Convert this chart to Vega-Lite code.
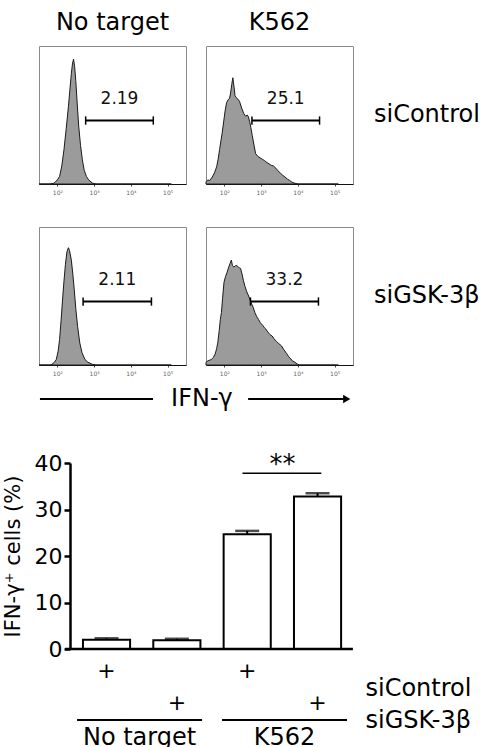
{
  "$schema": "https://vega.github.io/schema/vega-lite/v6.json",
  "padding": {"left": 2, "top": 11, "right": 0, "bottom": 0},
  "spacing": 0,
  "datasets": {
    "flow": [
      {"target": "No target", "sirna": "siControl", "log_ifng": 1.5, "freq": 0},
      {"target": "No target", "sirna": "siControl", "log_ifng": 1.8, "freq": 0},
      {"target": "No target", "sirna": "siControl", "log_ifng": 1.9, "freq": 0.5},
      {"target": "No target", "sirna": "siControl", "log_ifng": 1.95, "freq": 1.5},
      {"target": "No target", "sirna": "siControl", "log_ifng": 2.0, "freq": 3},
      {"target": "No target", "sirna": "siControl", "log_ifng": 2.06, "freq": 5.5},
      {"target": "No target", "sirna": "siControl", "log_ifng": 2.12, "freq": 13},
      {"target": "No target", "sirna": "siControl", "log_ifng": 2.18, "freq": 25},
      {"target": "No target", "sirna": "siControl", "log_ifng": 2.24, "freq": 40},
      {"target": "No target", "sirna": "siControl", "log_ifng": 2.3, "freq": 56},
      {"target": "No target", "sirna": "siControl", "log_ifng": 2.34, "freq": 68},
      {"target": "No target", "sirna": "siControl", "log_ifng": 2.38, "freq": 80},
      {"target": "No target", "sirna": "siControl", "log_ifng": 2.41, "freq": 87},
      {"target": "No target", "sirna": "siControl", "log_ifng": 2.44, "freq": 90.5},
      {"target": "No target", "sirna": "siControl", "log_ifng": 2.47, "freq": 85},
      {"target": "No target", "sirna": "siControl", "log_ifng": 2.5, "freq": 75},
      {"target": "No target", "sirna": "siControl", "log_ifng": 2.54, "freq": 58},
      {"target": "No target", "sirna": "siControl", "log_ifng": 2.58, "freq": 42},
      {"target": "No target", "sirna": "siControl", "log_ifng": 2.63, "freq": 28},
      {"target": "No target", "sirna": "siControl", "log_ifng": 2.68, "freq": 17.5},
      {"target": "No target", "sirna": "siControl", "log_ifng": 2.73, "freq": 10},
      {"target": "No target", "sirna": "siControl", "log_ifng": 2.79, "freq": 5.5},
      {"target": "No target", "sirna": "siControl", "log_ifng": 2.85, "freq": 3},
      {"target": "No target", "sirna": "siControl", "log_ifng": 2.95, "freq": 0.7},
      {"target": "No target", "sirna": "siControl", "log_ifng": 3.05, "freq": 0},
      {"target": "No target", "sirna": "siControl", "log_ifng": 5.1, "freq": 0},

      {"target": "K562", "sirna": "siControl", "log_ifng": 1.5, "freq": 1.5},
      {"target": "K562", "sirna": "siControl", "log_ifng": 1.55, "freq": 3},
      {"target": "K562", "sirna": "siControl", "log_ifng": 1.6, "freq": 2.5},
      {"target": "K562", "sirna": "siControl", "log_ifng": 1.67, "freq": 5},
      {"target": "K562", "sirna": "siControl", "log_ifng": 1.73, "freq": 8},
      {"target": "K562", "sirna": "siControl", "log_ifng": 1.79, "freq": 12.5},
      {"target": "K562", "sirna": "siControl", "log_ifng": 1.83, "freq": 18},
      {"target": "K562", "sirna": "siControl", "log_ifng": 1.87, "freq": 25},
      {"target": "K562", "sirna": "siControl", "log_ifng": 1.91, "freq": 32},
      {"target": "K562", "sirna": "siControl", "log_ifng": 1.94, "freq": 37},
      {"target": "K562", "sirna": "siControl", "log_ifng": 1.98, "freq": 45},
      {"target": "K562", "sirna": "siControl", "log_ifng": 2.02, "freq": 53},
      {"target": "K562", "sirna": "siControl", "log_ifng": 2.06, "freq": 59},
      {"target": "K562", "sirna": "siControl", "log_ifng": 2.1, "freq": 61},
      {"target": "K562", "sirna": "siControl", "log_ifng": 2.14, "freq": 62},
      {"target": "K562", "sirna": "siControl", "log_ifng": 2.17, "freq": 66},
      {"target": "K562", "sirna": "siControl", "log_ifng": 2.2, "freq": 72},
      {"target": "K562", "sirna": "siControl", "log_ifng": 2.23, "freq": 77},
      {"target": "K562", "sirna": "siControl", "log_ifng": 2.26, "freq": 71},
      {"target": "K562", "sirna": "siControl", "log_ifng": 2.29, "freq": 64},
      {"target": "K562", "sirna": "siControl", "log_ifng": 2.31, "freq": 63},
      {"target": "K562", "sirna": "siControl", "log_ifng": 2.35, "freq": 62},
      {"target": "K562", "sirna": "siControl", "log_ifng": 2.41, "freq": 60},
      {"target": "K562", "sirna": "siControl", "log_ifng": 2.47, "freq": 55},
      {"target": "K562", "sirna": "siControl", "log_ifng": 2.53, "freq": 51},
      {"target": "K562", "sirna": "siControl", "log_ifng": 2.58, "freq": 49},
      {"target": "K562", "sirna": "siControl", "log_ifng": 2.62, "freq": 50},
      {"target": "K562", "sirna": "siControl", "log_ifng": 2.65, "freq": 49},
      {"target": "K562", "sirna": "siControl", "log_ifng": 2.69, "freq": 45},
      {"target": "K562", "sirna": "siControl", "log_ifng": 2.72, "freq": 41},
      {"target": "K562", "sirna": "siControl", "log_ifng": 2.76, "freq": 35},
      {"target": "K562", "sirna": "siControl", "log_ifng": 2.8, "freq": 29},
      {"target": "K562", "sirna": "siControl", "log_ifng": 2.85, "freq": 22},
      {"target": "K562", "sirna": "siControl", "log_ifng": 2.91, "freq": 20},
      {"target": "K562", "sirna": "siControl", "log_ifng": 2.97, "freq": 19},
      {"target": "K562", "sirna": "siControl", "log_ifng": 3.03, "freq": 18},
      {"target": "K562", "sirna": "siControl", "log_ifng": 3.09, "freq": 17},
      {"target": "K562", "sirna": "siControl", "log_ifng": 3.16, "freq": 15.5},
      {"target": "K562", "sirna": "siControl", "log_ifng": 3.22, "freq": 14.5},
      {"target": "K562", "sirna": "siControl", "log_ifng": 3.28, "freq": 13.5},
      {"target": "K562", "sirna": "siControl", "log_ifng": 3.34, "freq": 13},
      {"target": "K562", "sirna": "siControl", "log_ifng": 3.4, "freq": 11.5},
      {"target": "K562", "sirna": "siControl", "log_ifng": 3.46, "freq": 9.5},
      {"target": "K562", "sirna": "siControl", "log_ifng": 3.52, "freq": 8},
      {"target": "K562", "sirna": "siControl", "log_ifng": 3.58, "freq": 6.5},
      {"target": "K562", "sirna": "siControl", "log_ifng": 3.65, "freq": 5},
      {"target": "K562", "sirna": "siControl", "log_ifng": 3.72, "freq": 3.5},
      {"target": "K562", "sirna": "siControl", "log_ifng": 3.78, "freq": 2.5},
      {"target": "K562", "sirna": "siControl", "log_ifng": 3.83, "freq": 1.5},
      {"target": "K562", "sirna": "siControl", "log_ifng": 3.9, "freq": 0.7},
      {"target": "K562", "sirna": "siControl", "log_ifng": 4.0, "freq": 0},
      {"target": "K562", "sirna": "siControl", "log_ifng": 5.1, "freq": 0},

      {"target": "No target", "sirna": "siGSK-3β", "log_ifng": 1.5, "freq": 0},
      {"target": "No target", "sirna": "siGSK-3β", "log_ifng": 1.8, "freq": 0},
      {"target": "No target", "sirna": "siGSK-3β", "log_ifng": 1.85, "freq": 0.5},
      {"target": "No target", "sirna": "siGSK-3β", "log_ifng": 1.92, "freq": 2},
      {"target": "No target", "sirna": "siGSK-3β", "log_ifng": 1.97, "freq": 4},
      {"target": "No target", "sirna": "siGSK-3β", "log_ifng": 2.02, "freq": 10},
      {"target": "No target", "sirna": "siGSK-3β", "log_ifng": 2.06, "freq": 18.5},
      {"target": "No target", "sirna": "siGSK-3β", "log_ifng": 2.1, "freq": 32},
      {"target": "No target", "sirna": "siGSK-3β", "log_ifng": 2.14, "freq": 47},
      {"target": "No target", "sirna": "siGSK-3β", "log_ifng": 2.18, "freq": 61},
      {"target": "No target", "sirna": "siGSK-3β", "log_ifng": 2.22, "freq": 73},
      {"target": "No target", "sirna": "siGSK-3β", "log_ifng": 2.26, "freq": 82},
      {"target": "No target", "sirna": "siGSK-3β", "log_ifng": 2.3, "freq": 85},
      {"target": "No target", "sirna": "siGSK-3β", "log_ifng": 2.33, "freq": 83},
      {"target": "No target", "sirna": "siGSK-3β", "log_ifng": 2.38, "freq": 76},
      {"target": "No target", "sirna": "siGSK-3β", "log_ifng": 2.42, "freq": 66},
      {"target": "No target", "sirna": "siGSK-3β", "log_ifng": 2.46, "freq": 54.5},
      {"target": "No target", "sirna": "siGSK-3β", "log_ifng": 2.5, "freq": 41},
      {"target": "No target", "sirna": "siGSK-3β", "log_ifng": 2.55, "freq": 28},
      {"target": "No target", "sirna": "siGSK-3β", "log_ifng": 2.61, "freq": 16},
      {"target": "No target", "sirna": "siGSK-3β", "log_ifng": 2.67, "freq": 9},
      {"target": "No target", "sirna": "siGSK-3β", "log_ifng": 2.75, "freq": 4},
      {"target": "No target", "sirna": "siGSK-3β", "log_ifng": 2.83, "freq": 2},
      {"target": "No target", "sirna": "siGSK-3β", "log_ifng": 2.95, "freq": 0.5},
      {"target": "No target", "sirna": "siGSK-3β", "log_ifng": 3.05, "freq": 0},
      {"target": "No target", "sirna": "siGSK-3β", "log_ifng": 5.1, "freq": 0},

      {"target": "K562", "sirna": "siGSK-3β", "log_ifng": 1.5, "freq": 2},
      {"target": "K562", "sirna": "siGSK-3β", "log_ifng": 1.55, "freq": 3},
      {"target": "K562", "sirna": "siGSK-3β", "log_ifng": 1.6, "freq": 3.5},
      {"target": "K562", "sirna": "siGSK-3β", "log_ifng": 1.65, "freq": 4},
      {"target": "K562", "sirna": "siGSK-3β", "log_ifng": 1.7, "freq": 5.5},
      {"target": "K562", "sirna": "siGSK-3β", "log_ifng": 1.75, "freq": 8},
      {"target": "K562", "sirna": "siGSK-3β", "log_ifng": 1.79, "freq": 12},
      {"target": "K562", "sirna": "siGSK-3β", "log_ifng": 1.82, "freq": 16},
      {"target": "K562", "sirna": "siGSK-3β", "log_ifng": 1.86, "freq": 25},
      {"target": "K562", "sirna": "siGSK-3β", "log_ifng": 1.89, "freq": 33},
      {"target": "K562", "sirna": "siGSK-3β", "log_ifng": 1.92, "freq": 38},
      {"target": "K562", "sirna": "siGSK-3β", "log_ifng": 1.95, "freq": 48},
      {"target": "K562", "sirna": "siGSK-3β", "log_ifng": 1.99, "freq": 60},
      {"target": "K562", "sirna": "siGSK-3β", "log_ifng": 2.03, "freq": 64},
      {"target": "K562", "sirna": "siGSK-3β", "log_ifng": 2.07, "freq": 67},
      {"target": "K562", "sirna": "siGSK-3β", "log_ifng": 2.12, "freq": 71},
      {"target": "K562", "sirna": "siGSK-3β", "log_ifng": 2.16, "freq": 74},
      {"target": "K562", "sirna": "siGSK-3β", "log_ifng": 2.19, "freq": 76},
      {"target": "K562", "sirna": "siGSK-3β", "log_ifng": 2.22, "freq": 72},
      {"target": "K562", "sirna": "siGSK-3β", "log_ifng": 2.26, "freq": 71},
      {"target": "K562", "sirna": "siGSK-3β", "log_ifng": 2.3, "freq": 72},
      {"target": "K562", "sirna": "siGSK-3β", "log_ifng": 2.34, "freq": 72},
      {"target": "K562", "sirna": "siGSK-3β", "log_ifng": 2.38, "freq": 71},
      {"target": "K562", "sirna": "siGSK-3β", "log_ifng": 2.41, "freq": 70.5},
      {"target": "K562", "sirna": "siGSK-3β", "log_ifng": 2.44, "freq": 70},
      {"target": "K562", "sirna": "siGSK-3β", "log_ifng": 2.48, "freq": 66},
      {"target": "K562", "sirna": "siGSK-3β", "log_ifng": 2.52, "freq": 61},
      {"target": "K562", "sirna": "siGSK-3β", "log_ifng": 2.56, "freq": 57},
      {"target": "K562", "sirna": "siGSK-3β", "log_ifng": 2.61, "freq": 53},
      {"target": "K562", "sirna": "siGSK-3β", "log_ifng": 2.66, "freq": 50},
      {"target": "K562", "sirna": "siGSK-3β", "log_ifng": 2.7, "freq": 47},
      {"target": "K562", "sirna": "siGSK-3β", "log_ifng": 2.73, "freq": 45},
      {"target": "K562", "sirna": "siGSK-3β", "log_ifng": 2.78, "freq": 42},
      {"target": "K562", "sirna": "siGSK-3β", "log_ifng": 2.83, "freq": 38},
      {"target": "K562", "sirna": "siGSK-3β", "log_ifng": 2.88, "freq": 35},
      {"target": "K562", "sirna": "siGSK-3β", "log_ifng": 2.93, "freq": 33},
      {"target": "K562", "sirna": "siGSK-3β", "log_ifng": 2.97, "freq": 31},
      {"target": "K562", "sirna": "siGSK-3β", "log_ifng": 3.0, "freq": 30},
      {"target": "K562", "sirna": "siGSK-3β", "log_ifng": 3.05, "freq": 28.5},
      {"target": "K562", "sirna": "siGSK-3β", "log_ifng": 3.09, "freq": 27},
      {"target": "K562", "sirna": "siGSK-3β", "log_ifng": 3.13, "freq": 26},
      {"target": "K562", "sirna": "siGSK-3β", "log_ifng": 3.18, "freq": 24},
      {"target": "K562", "sirna": "siGSK-3β", "log_ifng": 3.24, "freq": 22},
      {"target": "K562", "sirna": "siGSK-3β", "log_ifng": 3.3, "freq": 21},
      {"target": "K562", "sirna": "siGSK-3β", "log_ifng": 3.35, "freq": 19},
      {"target": "K562", "sirna": "siGSK-3β", "log_ifng": 3.42, "freq": 17},
      {"target": "K562", "sirna": "siGSK-3β", "log_ifng": 3.48, "freq": 15.5},
      {"target": "K562", "sirna": "siGSK-3β", "log_ifng": 3.55, "freq": 14},
      {"target": "K562", "sirna": "siGSK-3β", "log_ifng": 3.62, "freq": 11},
      {"target": "K562", "sirna": "siGSK-3β", "log_ifng": 3.69, "freq": 8.5},
      {"target": "K562", "sirna": "siGSK-3β", "log_ifng": 3.75, "freq": 6},
      {"target": "K562", "sirna": "siGSK-3β", "log_ifng": 3.79, "freq": 5},
      {"target": "K562", "sirna": "siGSK-3β", "log_ifng": 3.85, "freq": 3},
      {"target": "K562", "sirna": "siGSK-3β", "log_ifng": 3.92, "freq": 2},
      {"target": "K562", "sirna": "siGSK-3β", "log_ifng": 3.98, "freq": 0.8},
      {"target": "K562", "sirna": "siGSK-3β", "log_ifng": 4.04, "freq": 0},
      {"target": "K562", "sirna": "siGSK-3β", "log_ifng": 5.1, "freq": 0},

      {"target": "No target", "sirna": "siControl", "gate": 2.77, "pct": 2.19},
      {"target": "No target", "sirna": "siControl", "gate": 4.61, "pct": 2.19},
      {"target": "K562", "sirna": "siControl", "gate": 2.75, "pct": 25.1},
      {"target": "K562", "sirna": "siControl", "gate": 4.59, "pct": 25.1},
      {"target": "No target", "sirna": "siGSK-3β", "gate": 2.7, "pct": 2.11},
      {"target": "No target", "sirna": "siGSK-3β", "gate": 4.56, "pct": 2.11},
      {"target": "K562", "sirna": "siGSK-3β", "gate": 2.71, "pct": 33.2},
      {"target": "K562", "sirna": "siGSK-3β", "gate": 4.56, "pct": 33.2}
    ],
    "summary": [
      {"condition": "No target / siControl", "target": "No target", "sirna": "siControl", "pct": 2.0, "sem": 0.3, "vs_control": null},
      {"condition": "No target / siGSK-3β", "target": "No target", "sirna": "siGSK-3β", "pct": 1.9, "sem": 0.3, "vs_control": null},
      {"condition": "K562 / siControl", "target": "K562", "sirna": "siControl", "pct": 24.7, "sem": 0.7, "vs_control": null},
      {"condition": "K562 / siGSK-3β", "target": "K562", "sirna": "siGSK-3β", "pct": 32.8, "sem": 0.7, "vs_control": "**"}
    ]
  },
  "vconcat": [
    {
      "data": {"name": "flow"},
      "facet": {
        "column": {
          "field": "target", "type": "nominal", "sort": ["No target", "K562"],
          "header": {"title": null, "labelFontSize": 24, "labelColor": "black", "labelPadding": 10}
        },
        "row": {
          "field": "sirna", "type": "nominal", "sort": ["siControl", "siGSK-3β"],
          "header": {"title": null, "labelOrient": "right", "labelAngle": 0, "labelAlign": "right",
                     "labelBaseline": "middle", "labelFontSize": 24, "labelColor": "black", "labelPadding": 20}
        }
      },
      "spacing": {"row": 30, "column": 16},
      "resolve": {"axis": {"x": "independent"}},
      "spec": {
        "width": 147,
        "height": 138,
        "layer": [
          {
            "transform": [{"filter": "isValid(datum.freq)"}],
            "mark": {"type": "area", "fill": "#9b9b9b", "stroke": "#1a1a1a", "strokeWidth": 1, "interpolate": "linear"},
            "encoding": {
              "x": {
                "field": "log_ifng", "type": "quantitative",
                "scale": {"domain": [1.5, 5.1]},
                "axis": {
                  "title": null, "grid": false, "values": [2, 3, 4, 5],
                  "labelExpr": "'10' + ['²', '³', '⁴', '⁵'][datum.value - 2]",
                  "labelFontSize": 6, "labelColor": "#666", "labelPadding": 3,
                  "tickSize": 2, "tickColor": "#444", "domainColor": "#111", "domainWidth": 1.2
                }
              },
              "y": {"field": "freq", "type": "quantitative", "scale": {"domain": [0, 100]}, "axis": null}
            }
          },
          {
            "transform": [{"filter": "isValid(datum.gate)"}],
            "mark": {"type": "rule", "color": "black", "strokeWidth": 2},
            "encoding": {
              "x": {"aggregate": "min", "field": "gate", "type": "quantitative"},
              "x2": {"aggregate": "max", "field": "gate"},
              "y": {"datum": 46}
            }
          },
          {
            "transform": [{"filter": "isValid(datum.gate)"}],
            "mark": {"type": "rule", "color": "black", "strokeWidth": 1.5},
            "encoding": {
              "x": {"field": "gate", "type": "quantitative"},
              "y": {"datum": 43},
              "y2": {"datum": 49}
            }
          },
          {
            "transform": [{"filter": "isValid(datum.gate)"}],
            "mark": {"type": "text", "fontSize": 17, "color": "#111", "baseline": "middle"},
            "encoding": {
              "x": {"aggregate": "mean", "field": "gate", "type": "quantitative"},
              "y": {"datum": 61.5},
              "text": {"field": "pct", "type": "quantitative"}
            }
          }
        ]
      }
    },
    {
      "data": {"values": [{"label": "IFN-γ"}]},
      "width": 314,
      "height": 74,
      "view": {"stroke": null},
      "encoding": {
        "y": {"datum": 0.703, "type": "quantitative", "scale": {"domain": [0, 1]}, "axis": null}
      },
      "layer": [
        {
          "mark": {"type": "rule", "color": "black", "strokeWidth": 2},
          "encoding": {
            "x": {"datum": 0.003, "type": "quantitative", "scale": {"domain": [0, 1]}, "axis": null},
            "x2": {"datum": 0.363}
          }
        },
        {
          "mark": {"type": "rule", "color": "black", "strokeWidth": 2},
          "encoding": {
            "x": {"datum": 0.666, "type": "quantitative"},
            "x2": {"datum": 0.975}
          }
        },
        {
          "mark": {"type": "point", "shape": "triangle-right", "filled": true, "color": "black", "size": 70, "opacity": 1},
          "encoding": {"x": {"datum": 0.98, "type": "quantitative"}}
        },
        {
          "mark": {"type": "text", "fontSize": 24, "color": "black", "baseline": "middle"},
          "encoding": {
            "x": {"datum": 0.519, "type": "quantitative"},
            "text": {"field": "label"}
          }
        }
      ]
    },
    {
      "data": {"name": "summary"},
      "width": 314,
      "height": 186,
      "view": {"stroke": null},
      "layer": [
        {
          "mark": {"type": "errorbar", "color": "black", "ticks": {"size": 24, "thickness": 2.5}, "rule": {"strokeWidth": 2}},
          "encoding": {
            "x": {
              "field": "condition", "type": "nominal",
              "scale": {
                "domain": ["No target / siControl", "No target / siGSK-3β", "K562 / siControl", "K562 / siGSK-3β"],
                "paddingInner": 0.33, "paddingOuter": 0.397, "align": 0.787
              },
              "axis": null
            },
            "y": {
              "field": "pct", "type": "quantitative",
              "scale": {"domain": [0, 40]},
              "axis": {
                "title": "IFN-γ⁺ cells (%)", "titleFontSize": 21, "titleFontWeight": "normal", "titleColor": "black",
                "titlePadding": 11, "values": [0, 10, 20, 30, 40], "grid": false, "offset": -31,
                "labelFontSize": 22, "labelColor": "black", "labelPadding": 2,
                "tickSize": 6, "tickWidth": 2.5, "tickColor": "black", "domainColor": "black", "domainWidth": 2.5
              }
            },
            "yError": {"field": "sem"}
          }
        },
        {
          "mark": {"type": "bar", "fill": "white", "stroke": "black", "strokeWidth": 2},
          "encoding": {
            "x": {"field": "condition", "type": "nominal"},
            "y": {"field": "pct", "type": "quantitative"}
          }
        },
        {
          "transform": [{"filter": "datum.vs_control != null"}],
          "mark": {"type": "rule", "color": "black", "strokeWidth": 2.5},
          "encoding": {
            "x": {"datum": "No target / siControl", "type": "nominal", "bandPosition": -0.38},
            "x2": {"datum": "K562 / siGSK-3β", "bandPosition": 1.25},
            "y": {"datum": 0, "type": "quantitative"}
          }
        },
        {
          "transform": [{"filter": "datum.vs_control != null"}],
          "mark": {"type": "rule", "color": "black", "strokeWidth": 1.5},
          "encoding": {
            "x": {"datum": "K562 / siControl", "type": "nominal", "bandPosition": 0.4},
            "x2": {"datum": "K562 / siGSK-3β", "bandPosition": 0.58},
            "y": {"datum": 37.8, "type": "quantitative"}
          }
        },
        {
          "transform": [{"filter": "datum.vs_control != null"}],
          "mark": {"type": "text", "fontSize": 26, "color": "black", "baseline": "middle"},
          "encoding": {
            "x": {"datum": "K562 / siControl", "type": "nominal", "bandPosition": 1.25},
            "y": {"datum": 39.6, "type": "quantitative"},
            "text": {"field": "vs_control", "type": "nominal"}
          }
        }
      ]
    },
    {
      "data": {"name": "summary"},
      "width": 314,
      "height": 64,
      "view": {"stroke": null},
      "resolve": {"scale": {"x": "independent"}},
      "layer": [
        {
          "mark": {"type": "text", "fontSize": 22, "color": "black", "baseline": "middle"},
          "encoding": {
            "x": {
              "field": "condition", "type": "nominal",
              "scale": {
                "type": "band",
                "domain": ["No target / siControl", "No target / siGSK-3β", "K562 / siControl", "K562 / siGSK-3β"],
                "paddingInner": 0.33, "paddingOuter": 0.397, "align": 0.787
              },
              "axis": null
            },
            "y": {
              "field": "sirna", "type": "nominal", "bandPosition": -0.06,
              "scale": {"type": "band", "domain": ["siControl", "siGSK-3β"], "paddingInner": 0, "paddingOuter": 0},
              "axis": {"orient": "right", "title": null, "domain": false, "ticks": false, "bandPosition": -0.06,
                       "labelFontSize": 24, "labelColor": "black", "labelPadding": 12}
            },
            "text": {"value": "+"}
          }
        },
        {
          "transform": [{"aggregate": [], "groupby": ["target"]}],
          "mark": {"type": "rule", "color": "black", "strokeWidth": 2},
          "encoding": {
            "x": {
              "field": "target", "type": "nominal", "bandPosition": 0,
              "scale": {"type": "band", "domain": ["No target", "K562"], "paddingInner": 0.138, "paddingOuter": 0.152, "align": 0.864},
              "axis": null
            },
            "x2": {"field": "target", "bandPosition": 1},
            "y": {"datum": "siGSK-3β", "bandPosition": 0.47}
          }
        },
        {
          "transform": [{"aggregate": [], "groupby": ["target"]}],
          "mark": {"type": "text", "fontSize": 24, "color": "black", "baseline": "middle"},
          "encoding": {
            "x": {
              "field": "target", "type": "nominal",
              "scale": {"type": "band", "domain": ["No target", "K562"], "paddingInner": 0.138, "paddingOuter": 0.152, "align": 0.864},
              "axis": null
            },
            "y": {"datum": "siGSK-3β", "bandPosition": 1.03},
            "text": {"field": "target"}
          }
        }
      ]
    }
  ],
  "config": {
    "font": "DejaVu Sans",
    "view": {"stroke": "#8a8a8a"},
    "text": {"font": "DejaVu Sans"},
    "axis": {"labelFont": "DejaVu Sans", "titleFont": "DejaVu Sans"},
    "header": {"labelFont": "DejaVu Sans", "titleFont": "DejaVu Sans"}
  }
}
